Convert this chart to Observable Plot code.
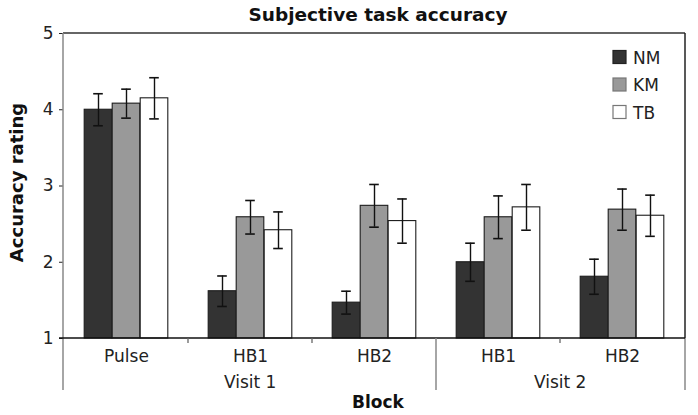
<!DOCTYPE html>
<html><head><meta charset="utf-8">
<script src="https://cdn.jsdelivr.net/npm/d3@7"></script>
<script src="https://cdn.jsdelivr.net/npm/@observablehq/plot@0.6"></script>
<style>
body{margin:0;background:#fff;}
#title{font-family:"DejaVu Sans",Verdana,sans-serif;font-weight:bold;font-size:18.5px;height:24px;line-height:24px;padding-top:3px;padding-left:58px;width:640px;text-align:center;color:#111;}
#chart svg{overflow:visible;}
</style></head><body>
<div id="title">Subjective task accuracy</div>
<div id="chart"></div>
<script>
// ---- data ----
const blocks = ["Pulse", "HB1", "HB2", "HB1", "HB2"];
const visits = ["Visit 1", "Visit 1", "Visit 1", "Visit 2", "Visit 2"];
const series = ["NM", "KM", "TB"];
const nmMean = [4.00, 1.62, 1.47, 2.00, 1.81];
const kmMean = [4.08, 2.59, 2.74, 2.59, 2.69];
const tbMean = [4.15, 2.42, 2.54, 2.72, 2.61];
const nmErr = [0.21, 0.20, 0.15, 0.25, 0.23];
const kmErr = [0.19, 0.22, 0.28, 0.28, 0.27];
const tbErr = [0.27, 0.24, 0.29, 0.30, 0.27];
const yTicks = [1, 2, 3, 4, 5];
const fills = ["#333333", "#999999", "#ffffff"];
const yLabel = "Accuracy rating";
const xLabel = "Block";

const means = {NM: nmMean, KM: kmMean, TB: tbMean};
const errs = {NM: nmErr, KM: kmErr, TB: tbErr};
const keys = blocks.map((b, i) => visits[i] + "|" + b);
const rows = [];
keys.forEach((k, i) => series.forEach(s => rows.push({key: k, series: s, value: means[s][i], err: errs[s][i]})));

// ---- layout ----
const W = 698, H = 388, mL = 63, mR = 13, mT = 6, mB = 77;
const bw = (W - mL - mR) / keys.length;
const barW = 28, capW = 10;
const groupPad = (bw - series.length * barW) / 2;
const font = '"DejaVu Sans", Verdana, sans-serif';

const seriesMarks = series.flatMap((s, k) => {
  const d = rows.filter(r => r.series === s);
  const il = groupPad + k * barW;
  const ir = bw - il - barW;
  const dx = il + barW / 2 - bw / 2;
  const ci = (barW - capW) / 2;
  return [
    Plot.barY(d, {x: "key", y1: yTicks[0], y2: "value", fill: fills[k], stroke: "#1c1c1c", strokeWidth: 1.1, insetLeft: il, insetRight: ir}),
    Plot.ruleX(d, {x: "key", y1: r => r.value - r.err, y2: r => r.value + r.err, dx, stroke: "#111", strokeWidth: 1.4}),
    Plot.tickY(d, {x: "key", y: r => r.value + r.err, insetLeft: il + ci, insetRight: ir + ci, stroke: "#111", strokeWidth: 1.6}),
    Plot.tickY(d, {x: "key", y: r => r.value - r.err, insetLeft: il + ci, insetRight: ir + ci, stroke: "#111", strokeWidth: 1.6})
  ];
});

function decorations(index, scales, values, dims) {
  const x = scales.x;
  const left = dims.marginLeft, right = dims.width - dims.marginRight;
  const top = dims.marginTop, bottom = dims.height - dims.marginBottom;
  const step = (right - left) / keys.length;
  const g = d3.create("svg:g").attr("font-family", font);
  const line = (x1, y1, x2, y2, c, w) => g.append("line").attr("x1", x1).attr("y1", y1).attr("x2", x2).attr("y2", y2).attr("stroke", c).attr("stroke-width", w);
  const ext = bottom + 52;
  // frame
  line(left, top, right, top, "#333", 1.5);
  line(right, top, right, bottom, "#222", 1.5);
  line(right, bottom, right, ext, "#888", 1.5);
  line(left, top, left, ext, "#888", 1.5);
  line(left - 4, bottom, right, bottom, "#111", 1.6);
  // group separators / ticks below axis
  keys.forEach((k, i) => {
    if (i === 0) return;
    const xs = x ? x(k) : left + i * step;
    if (visits[i] !== visits[i - 1]) line(xs, bottom, xs, ext, "#888", 1.5);
    else line(xs, bottom, xs, bottom + 5, "#666", 1.3);
  });
  // visit labels
  const uv = [...new Set(visits)];
  uv.forEach(v => {
    const idx = visits.map((vv, i) => vv === v ? i : -1).filter(i => i >= 0);
    const x0 = x ? x(keys[idx[0]]) : left + idx[0] * step;
    const x1 = (x ? x(keys[idx[idx.length - 1]]) : left + idx[idx.length - 1] * step) + step;
    g.append("text").attr("x", (x0 + x1) / 2).attr("y", bottom + 50).attr("text-anchor", "middle")
      .attr("font-size", 17).attr("fill", "#222").text(v);
  });
  // axis titles
  g.append("text").attr("x", (left + right) / 2 + 4).attr("y", bottom + 70).attr("text-anchor", "middle")
    .attr("font-size", 17).attr("font-weight", "bold").attr("fill", "#111").text(xLabel);
  g.append("text").attr("transform", `translate(${23},${(top + bottom) / 2 - 3}) rotate(-90)`).attr("text-anchor", "middle")
    .attr("font-size", 18).attr("font-weight", "bold").attr("fill", "#111").text(yLabel);
  // legend
  series.forEach((s, k) => {
    const cy = top + 24 + k * 27.5;
    g.append("rect").attr("x", 613).attr("y", cy - 6.5).attr("width", 13).attr("height", 13)
      .attr("fill", fills[k]).attr("stroke", k === 0 ? "#222" : "#777").attr("stroke-width", 1.2);
    g.append("text").attr("x", 633).attr("y", cy + 6.5).attr("text-anchor", "start")
      .attr("font-size", 17).attr("fill", "#222").text(s);
  });
  return g.node();
}

const chart = Plot.plot({
  width: W, height: H,
  marginLeft: mL, marginRight: mR, marginTop: mT, marginBottom: mB,
  style: {fontFamily: font, fontSize: "17px", color: "#222", background: "#fff"},
  x: {domain: keys, padding: 0, tickSize: 0, tickPadding: 11, tickFormat: k => k.split("|")[1], label: null},
  y: {domain: [yTicks[0], yTicks[yTicks.length - 1]], ticks: yTicks, tickFormat: "d", tickSize: 4, tickPadding: 6, label: null},
  marks: [
    ...seriesMarks,
    decorations
  ]
});
document.getElementById("chart").appendChild(chart);
</script>
</body></html>
